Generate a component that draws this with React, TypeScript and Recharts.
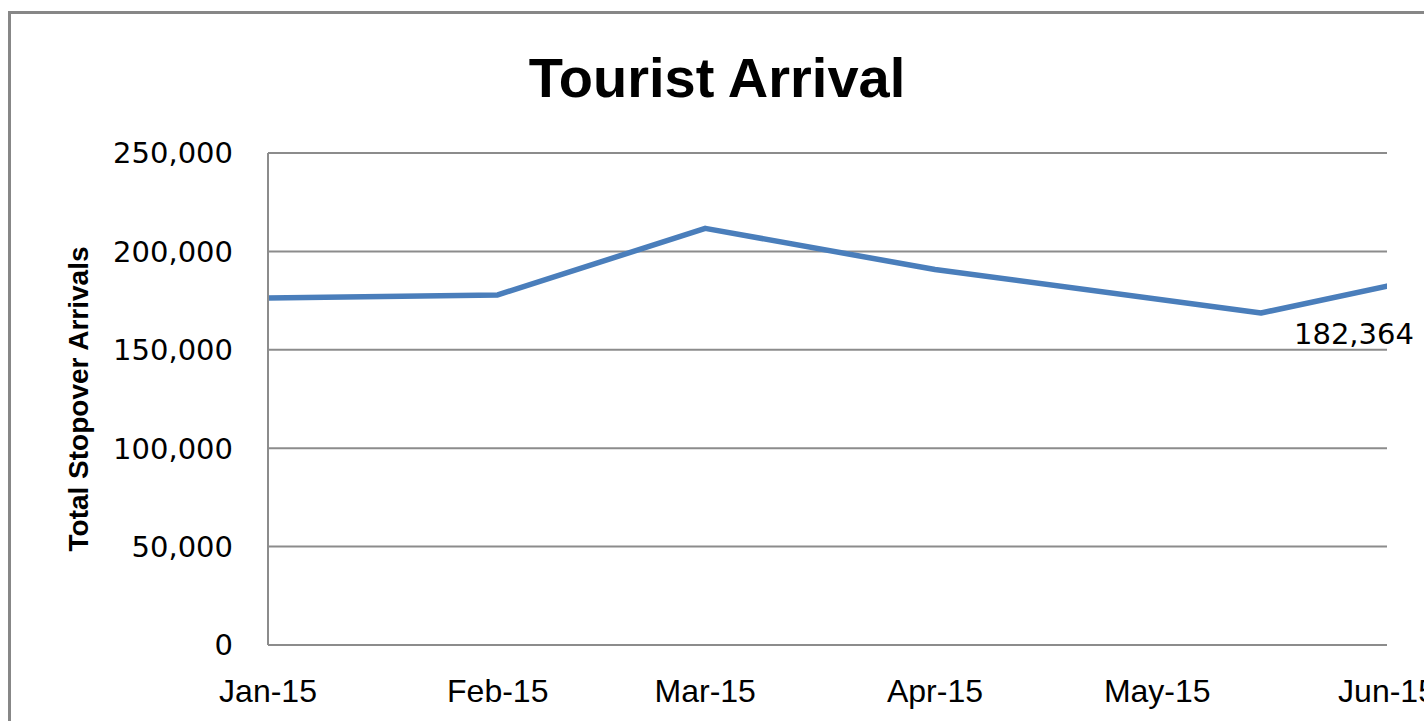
import React from 'react';
import { LineChart, Line, XAxis, YAxis, CartesianGrid, LabelList, Customized } from 'recharts';

const pointDates = ['2015-01-01', '2015-02-01', '2015-03-01', '2015-04-01', '2015-05-15', '2015-06-01'];
const arrivals = [176300, 177900, 211700, 190800, 168700, 182364];
const tickDates = ['2015-01-01', '2015-02-01', '2015-03-01', '2015-04-01', '2015-05-01', '2015-06-01'];
const tickLabels = ['Jan-15', 'Feb-15', 'Mar-15', 'Apr-15', 'May-15', 'Jun-15'];
const yTicks = [0, 50000, 100000, 150000, 200000, 250000];
const chartTitle = 'Tourist Arrival';
const yAxisTitle = 'Total Stopover Arrivals';

const W = 1424;
const H = 721;
const GRID = '#8c8c8c';

const xTickValues = tickDates.map((d) => Date.parse(d));

const XTick = (props: any) => {
  const { x, y, payload } = props;
  const idx = xTickValues.indexOf(payload.value);
  return (
    <text x={x} y={y + 57} textAnchor="middle" fontFamily="Liberation Sans" fontSize={32} fill="#000">
      {idx >= 0 ? tickLabels[idx] : ''}
    </text>
  );
};

const YTick = (props: any) => {
  const { x, y, payload } = props;
  return (
    <text x={x} y={y} dy="0.36em" textAnchor="end" fontFamily="DejaVu Sans" fontSize={29} fill="#000">
      {Number(payload.value).toLocaleString('en-US')}
    </text>
  );
};

const YTitle = (props: any) => {
  const vb = props.viewBox || { x: 0, y: 153, width: 268, height: 492 };
  const cx = 88;
  const cy = vb.y + vb.height / 2;
  return (
    <text
      x={cx}
      y={cy}
      transform={`rotate(-90, ${cx}, ${cy})`}
      textAnchor="middle"
      fontFamily="Liberation Sans"
      fontWeight="bold"
      fontSize={28}
      fill="#000"
    >
      {yAxisTitle}
    </text>
  );
};

const PointLabel = (props: any) => {
  const { x, y, value, index } = props;
  if (index !== arrivals.length - 1) return null;
  return (
    <text x={x - 93} y={y + 58} textAnchor="start" fontFamily="DejaVu Sans" fontSize={29} fill="#000">
      {Number(value).toLocaleString('en-US')}
    </text>
  );
};

const Title = (props: any) => {
  const w = props.width || W;
  return (
    <text x={w / 2 + 5} y={97} textAnchor="middle" fontFamily="Liberation Sans" fontWeight="bold" fontSize={56} fill="#000">
      {chartTitle}
    </text>
  );
};

export default function App() {
  const data = pointDates.map((d, i) => ({ t: Date.parse(d), v: arrivals[i] }));
  return (
    <div style={{ position: 'relative', width: W, height: H, background: '#fff', overflow: 'hidden' }}>
      <style>{'body{margin:0}'}</style>
      <div
        style={{
          position: 'absolute',
          left: 8,
          top: 11,
          width: 1500,
          height: 800,
          border: '3px solid #878787',
          boxSizing: 'border-box',
        }}
      />
      <div style={{ position: 'absolute', left: 0, top: 0 }}>
        <LineChart width={W} height={H} data={data} margin={{ top: 153, right: 37, bottom: 0, left: 0 }}>
          <CartesianGrid vertical={false} stroke={GRID} strokeWidth={2} />
          <XAxis
            dataKey="t"
            type="number"
            domain={[xTickValues[0], xTickValues[xTickValues.length - 1]]}
            ticks={xTickValues}
            interval={0}
            height={76}
            tickLine={false}
            tickSize={0}
            tickMargin={0}
            axisLine={{ stroke: GRID, strokeWidth: 2 }}
            tick={<XTick />}
            allowDataOverflow
          />
          <YAxis
            type="number"
            domain={[0, 250000]}
            ticks={yTicks}
            interval={0}
            width={268}
            tickLine={false}
            tickSize={0}
            tickMargin={35}
            axisLine={{ stroke: GRID, strokeWidth: 2 }}
            tick={<YTick />}
            label={<YTitle />}
          />
          <Line
            type="linear"
            dataKey="v"
            stroke="#4A7EBB"
            strokeWidth={5.5}
            strokeLinecap="round"
            strokeLinejoin="round"
            dot={false}
            isAnimationActive={false}
          >
            <LabelList dataKey="v" content={<PointLabel />} />
          </Line>
          <Customized component={<Title />} />
        </LineChart>
      </div>
    </div>
  );
}
